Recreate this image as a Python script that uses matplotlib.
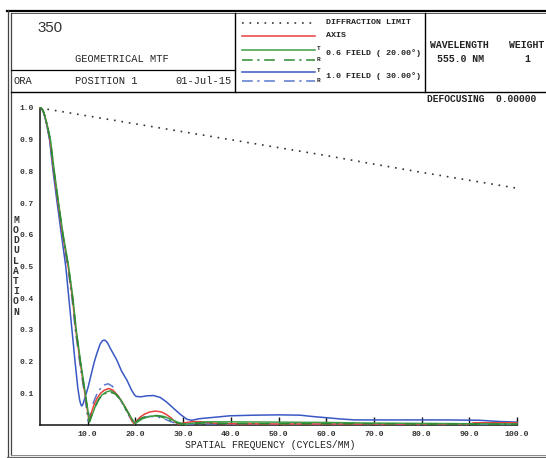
import matplotlib
matplotlib.use("Agg")
import matplotlib.pyplot as plt
from matplotlib.lines import Line2D

W, H = 546, 458

# ---------------- data ----------------
diff_f = [0, 10, 20, 30, 40, 50, 60, 70, 80, 90, 100]
diff_m = [1.0, 0.975, 0.95, 0.925, 0.9, 0.875, 0.85, 0.823, 0.797, 0.772, 0.747]

axis_f = [0, 0.25, 0.5, 0.75, 1.0, 1.5, 2.1, 2.9, 3.8, 4.75, 5.9, 6.8, 7.5, 8.4, 9.4, 10.0, 10.3,
          10.8, 11.3, 12.0, 12.7, 13.5, 14.4, 15.3, 16.2, 17.0, 17.8, 18.5, 19.3, 19.7, 20.2,
          21.0, 22.0, 23.0, 24.2, 25.5, 26.5, 27.5, 28.3, 29.0, 30.0, 32.0, 34.0, 36.0, 40.0,
          50.0, 60.0, 70.0, 80.0, 90.0, 91.0, 100.0]
axis_m = [1.0, 0.999, 0.995, 0.987, 0.975, 0.945, 0.9, 0.8, 0.7, 0.6, 0.5, 0.4, 0.3, 0.2, 0.1,
          0.04, 0.012, 0.04, 0.063, 0.085, 0.1, 0.11, 0.115, 0.11, 0.095, 0.078, 0.058, 0.038,
          0.012, 0.004, 0.012, 0.025, 0.035, 0.041, 0.044, 0.041, 0.033, 0.022, 0.01, 0.003,
          0.006, 0.011, 0.01, 0.006, 0.004, 0.003, 0.003, 0.003, 0.003, 0.003, 0.007, 0.007]

f06t_f = [0, 0.25, 0.5, 0.75, 1.0, 1.5, 2.2, 3.0, 3.9, 4.85, 6.0, 6.9, 7.6, 8.5, 9.5, 10.1,
          10.4, 11.0, 11.5, 12.3, 13.0, 14.0, 14.9, 16.0, 17.0, 18.0, 19.0, 19.9, 20.5, 21.5,
          23.0, 24.5, 26.0, 27.5, 29.0, 30.5, 32.0, 35.0, 40.0, 50.0, 60.0, 70.0, 80.0, 90.0,
          100.0]
f06t_m = [1.0, 0.999, 0.995, 0.988, 0.976, 0.947, 0.9, 0.8, 0.7, 0.6, 0.5, 0.4, 0.3, 0.2, 0.1,
          0.04, 0.01, 0.035, 0.055, 0.08, 0.095, 0.105, 0.108, 0.097, 0.078, 0.052, 0.026,
          0.004, 0.01, 0.02, 0.027, 0.03, 0.027, 0.018, 0.008, 0.002, 0.006, 0.01, 0.01, 0.009,
          0.008, 0.006, 0.005, 0.004, 0.003]

f06r_f = [0, 0.25, 0.5, 0.75, 1.0, 1.5, 2.15, 2.95, 3.85, 4.8, 5.95, 6.85, 7.55, 8.45, 9.45,
          10.05, 10.35, 11.0, 11.6, 12.4, 13.2, 14.6, 15.8, 16.8, 17.8, 18.8, 19.7, 20.3, 21.3,
          22.5, 23.5, 25.0, 26.5, 28.0, 29.5, 31.0, 34.0, 40.0, 50.0, 60.0, 70.0, 80.0, 90.0,
          100.0]
f06r_m = [1.0, 0.999, 0.995, 0.987, 0.975, 0.946, 0.9, 0.8, 0.7, 0.6, 0.5, 0.4, 0.3, 0.2, 0.1,
          0.04, 0.01, 0.038, 0.06, 0.083, 0.097, 0.104, 0.098, 0.08, 0.055, 0.03, 0.006, 0.012,
          0.022, 0.028, 0.03, 0.028, 0.02, 0.01, 0.003, 0.004, 0.006, 0.005, 0.004, 0.004,
          0.004, 0.003, 0.003, 0.003]

f10t_f = [0, 0.25, 0.5, 0.75, 1.0, 1.5, 2.0, 2.75, 3.6, 4.5, 5.4, 6.05, 6.7, 7.35, 7.9, 8.3,
          8.5, 8.7, 8.95, 9.2, 9.6, 10.1, 10.9, 11.4, 11.8, 12.2, 12.6, 13.1, 13.5, 13.9,
          14.3, 14.8, 15.4, 16.1, 17.1, 18.2, 19.2, 19.8, 20.2, 21.2, 22.4, 23.8, 25.2, 26.5,
          27.9, 29.3, 30.8, 31.8, 33.5, 36.3, 39.8, 45.0, 50.0, 54.5, 57.0, 60.0, 63.0, 66.0,
          75.0, 85.0, 92.0, 96.4, 100.0]
f10t_m = [1.0, 0.999, 0.994, 0.985, 0.972, 0.94, 0.9, 0.8, 0.7, 0.6, 0.5, 0.4, 0.3, 0.2, 0.12,
          0.08, 0.068, 0.06, 0.063, 0.075, 0.095, 0.12, 0.17, 0.2, 0.22, 0.238, 0.255, 0.266,
          0.268, 0.264, 0.255, 0.24, 0.224, 0.205, 0.17, 0.142, 0.11, 0.095, 0.09, 0.089,
          0.092, 0.093, 0.087, 0.073, 0.054, 0.035, 0.018, 0.015, 0.02, 0.024, 0.029, 0.031,
          0.032, 0.031, 0.027, 0.023, 0.019, 0.016, 0.016, 0.016, 0.015, 0.011, 0.009]

f10r_f = [0, 0.25, 0.5, 0.75, 1.0, 1.5, 2.05, 2.85, 3.75, 4.7, 5.8, 6.7, 7.4, 8.3, 9.3, 9.8,
          10.1, 10.7, 11.3, 12.0, 12.8, 13.6, 14.3, 15.2, 16.1, 17.0, 17.9, 18.8, 19.6, 20.2,
          21.0, 22.0, 23.0, 24.5, 26.0, 27.5, 29.0, 30.5, 33.0, 40.0, 50.0, 60.0, 70.0, 80.0,
          90.0, 100.0]
f10r_m = [1.0, 0.999, 0.994, 0.986, 0.974, 0.944, 0.9, 0.8, 0.7, 0.6, 0.5, 0.4, 0.3, 0.2, 0.1,
          0.045, 0.012, 0.045, 0.075, 0.1, 0.118, 0.127, 0.13, 0.122, 0.1, 0.075, 0.05, 0.025,
          0.008, 0.012, 0.02, 0.025, 0.027, 0.026, 0.02, 0.01, 0.003, 0.002, 0.004, 0.003,
          0.002, 0.002, 0.002, 0.002, 0.002, 0.002]

x_ticks = [10, 20, 30, 40, 50, 60, 70, 80, 90, 100]
y_ticks = [0.1, 0.2, 0.3, 0.4, 0.5, 0.6, 0.7, 0.8, 0.9, 1.0]

# ---------------- style ----------------
RED = '#e8403c'
GREEN = '#3f9e45'
GREEN_R = '#2d8a33'
BLUE = '#3a58c4'
BLUE_R = '#5a78d0'
DARK = '#222222'
MONO = 'Liberation Mono'
DASHDOT = (0, (7, 3, 1.5, 3, 7, 6))

fig = plt.figure(figsize=(W / 100, H / 100), dpi=100)
fig.patch.set_facecolor('white')


def fx(x):
    return x / W


def fy(y):
    return 1 - y / H


def hline(x0, x1, y, lw=1.0, color='black', **kw):
    fig.add_artist(Line2D([fx(x0), fx(x1)], [fy(y), fy(y)], lw=lw, color=color, **kw))


def vline(x, y0, y1, lw=1.0, color='black', **kw):
    fig.add_artist(Line2D([fx(x), fx(x)], [fy(y0), fy(y1)], lw=lw, color=color, **kw))


def text(x, y, s, **kw):
    kw.setdefault('family', MONO)
    kw.setdefault('color', DARK)
    kw.setdefault('va', 'center')
    fig.text(fx(x), fy(y), s, **kw)


# ---------------- frame ----------------
hline(7, 546, 10.5, lw=1.6)
hline(11, 546, 13.2, lw=0.7, color='#555555')
vline(7.5, 10, 457, lw=0.9, color='#444444')
vline(11, 13, 454.5, lw=0.9, color='#444444')
hline(7, 546, 457, lw=0.9, color='#666666')
hline(11, 546, 454.5, lw=0.7, color='#888888')
hline(11, 546, 92, lw=1.0)
hline(11, 235, 69.5, lw=0.9)
vline(235, 13, 92, lw=1.0)
vline(425, 13, 92, lw=1.0)

# ---------------- header text ----------------
text(37, 28.5, '350', family='Liberation Sans', fontsize=10.8, color='#333333')
text(75, 59.5, 'GEOMETRICAL MTF', fontsize=7.5)
text(14, 81, 'ORA', fontsize=7.5)
text(75, 81, 'POSITION 1', fontsize=7.5)
text(232, 81, '01-Jul-15', fontsize=7.5, ha='right')

# legend
leg_items = [
    (23.3, 'dot', '#333333'),
    (36, '-', RED),
    (50, '-', GREEN),
    (59.5, 'dd', GREEN_R),
    (71.7, '-', BLUE),
    (80.7, 'dd', BLUE_R),
]
for y, ls, c in leg_items:
    if ls == 'dot':
        fig.add_artist(Line2D([fx(242), fx(314)], [fy(y), fy(y)], lw=1.2, color=c,
                              linestyle=(0, (1, 3.5))))
    elif ls == '-':
        fig.add_artist(Line2D([fx(242), fx(315)], [fy(y), fy(y)], lw=1.1, color=c))
    else:
        fig.add_artist(Line2D([fx(242), fx(315)], [fy(y), fy(y)], lw=1.1, color=c,
                              linestyle=DASHDOT))
text(326, 22.5, 'DIFFRACTION LIMIT', fontsize=6.0, weight='bold')
text(326, 35.5, 'AXIS', fontsize=6.0, weight='bold')
text(317, 48.5, 'T', fontsize=4.5, weight='bold')
text(317, 59.5, 'R', fontsize=4.5, weight='bold')
text(326, 53.5, '0.6 FIELD ( 20.00°)', fontsize=6.0, weight='bold')
text(317, 70.5, 'T', fontsize=4.5, weight='bold')
text(317, 81, 'R', fontsize=4.5, weight='bold')
text(326, 76, '1.0 FIELD ( 30.00°)', fontsize=6.0, weight='bold')

text(430, 45.5, 'WAVELENGTH', fontsize=7.1, weight='bold')
text(509, 45.5, 'WEIGHT', fontsize=7.1, weight='bold')
text(437, 59, '555.0 NM', fontsize=7.1, weight='bold')
text(524, 59, '1', fontsize=7.1, weight='bold')
text(427, 99.5, 'DEFOCUSING  0.00000', fontsize=6.9, weight='bold')

# ---------------- plot ----------------
ax_l, ax_r, ax_t, ax_b = 40, 517, 108, 425
ax = fig.add_axes([fx(ax_l), fy(ax_b), (ax_r - ax_l) / W, (ax_b - ax_t) / H])
ax.set_xlim(0, 100)
ax.set_ylim(0, 1.0)
ax.patch.set_alpha(0)
for s in ['top', 'right']:
    ax.spines[s].set_visible(False)
for s in ['left', 'bottom']:
    ax.spines[s].set_linewidth(1.1)
    ax.spines[s].set_color('#111111')

ax.plot(diff_f, diff_m, color='#333333', lw=1.2, linestyle=(0, (1, 3.5)), clip_on=False)
ax.plot(f10t_f, f10t_m, color=BLUE, lw=1.1, clip_on=False, zorder=3)
ax.plot(f10r_f, f10r_m, color=BLUE_R, lw=1.1, linestyle=DASHDOT, clip_on=False, zorder=3)
ax.plot(axis_f, axis_m, color=RED, lw=1.1, clip_on=False, zorder=4)
ax.plot(f06t_f, f06t_m, color=GREEN, lw=1.1, clip_on=False, zorder=4)
ax.plot(f06r_f, f06r_m, color=GREEN_R, lw=1.1, linestyle=DASHDOT, clip_on=False, zorder=5)

ax.set_xticks(x_ticks)
ax.set_xticklabels([f'{v:.1f}' for v in x_ticks])
ax.set_yticks(y_ticks)
ax.set_yticklabels([f'{v:.1f}' for v in y_ticks])
ax.tick_params(axis='x', direction='in', length=6, width=1.0, color='#111111', pad=4,
               labelsize=5.9, labelcolor='#333333')
ax.tick_params(axis='y', length=0, pad=4.5, labelsize=5.7, labelcolor='#333333')
for lab in ax.get_xticklabels() + ax.get_yticklabels():
    lab.set_family(MONO)
    lab.set_weight('bold')

text(270, 445.5, 'SPATIAL FREQUENCY (CYCLES/MM)', fontsize=7.0, ha='center')
for i, ch in enumerate('MODULATION'):
    text(16, 219.5 + i * 10.25, ch, fontsize=7.0, weight='bold', ha='center', color='#333333')

fig.savefig('out.png', dpi=100)
